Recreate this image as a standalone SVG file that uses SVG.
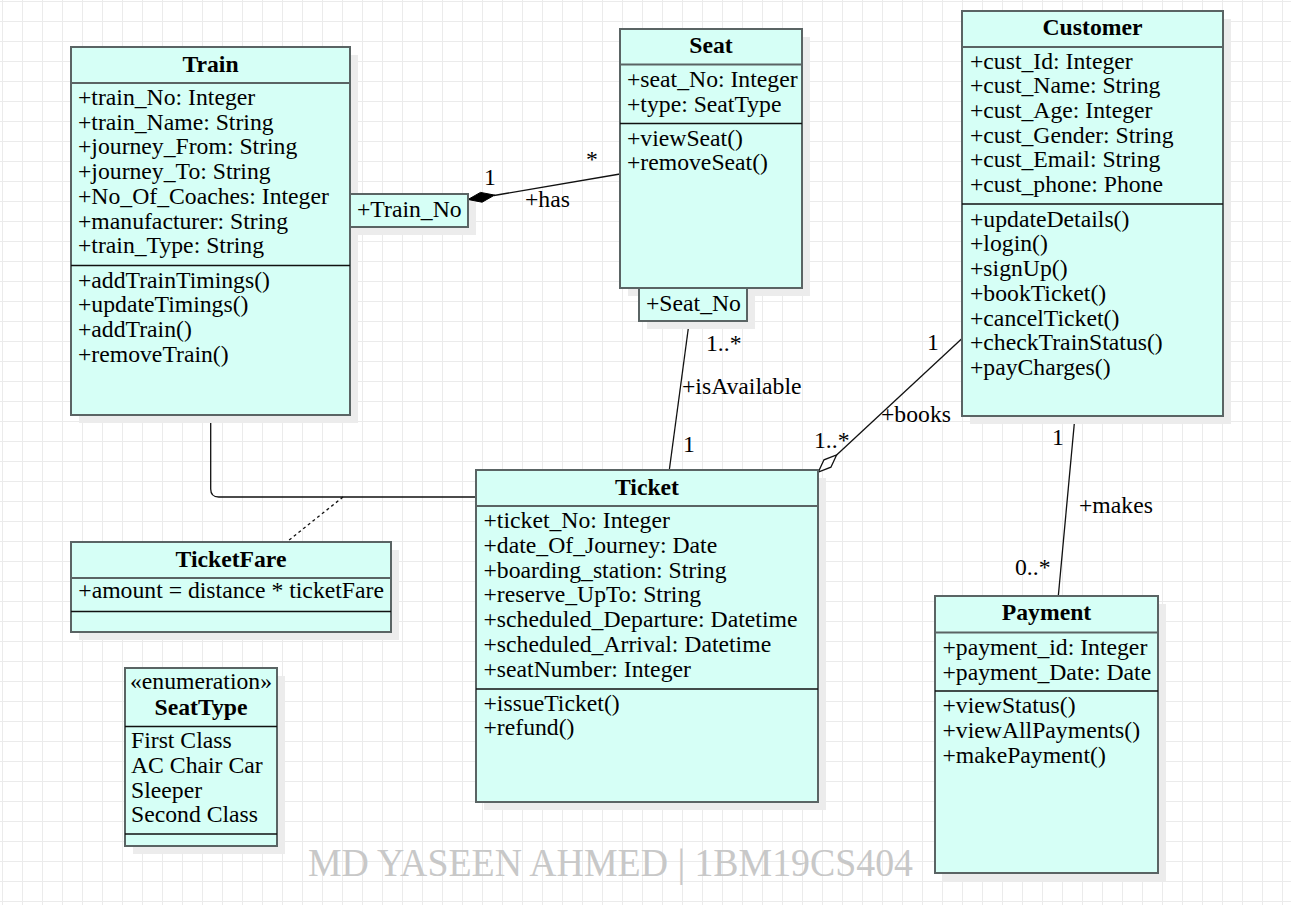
<svg xmlns="http://www.w3.org/2000/svg" width="1291" height="905" viewBox="0 0 1291 905">
<defs>
<pattern id="grid" x="2" y="1" width="20" height="20" patternUnits="userSpaceOnUse">
<path d="M0.5 0 V20 M0 0.5 H20" stroke="#ebebeb" stroke-width="1" fill="none"/>
</pattern>
<style>
.box{fill:#d6fff6;stroke:#5a6464;stroke-width:2}
.sh{fill:#ececec}
.hd{stroke:#5a6464;stroke-width:2}
.dv{stroke:#111;stroke-width:1.3}
.t{font-family:"Liberation Serif","Times New Roman",serif;font-size:23.7px;fill:#000}
.b{font-weight:bold;text-anchor:middle}
.c{text-anchor:middle}
.ln{stroke:#111;stroke-width:1.3;fill:none}
</style>
</defs>
<rect width="1291" height="905" fill="#fff"/>
<rect width="1291" height="905" fill="url(#grid)"/>

<text x="308" y="876" font-family="'Liberation Serif','Times New Roman',serif" font-size="40" fill="#c8c8c8" textLength="605" lengthAdjust="spacingAndGlyphs">MD YASEEN AHMED | 1BM19CS404</text>

<g id="connectors">
<path class="ln" d="M210.7 415 V489 Q210.7 497 218.7 497 H476"/>
<path class="ln" d="M343 497 L288 541" stroke-dasharray="3 3"/>
<line class="ln" x1="494" y1="195.5" x2="620" y2="174"/>
<polygon points="468,199.5 480.5,192.4 494.6,195.1 482.1,202.2" fill="#000" stroke="#000" stroke-width="1"/>
<line class="ln" x1="689.3" y1="321" x2="669.3" y2="470"/>
<line class="ln" x1="962" y1="338.5" x2="836.6" y2="455"/>
<polygon points="818.3,472 824,459.8 836.6,455 830.9,467.2" fill="#fff" stroke="#111" stroke-width="1.3"/>
<line class="ln" x1="1075" y1="416" x2="1058.3" y2="596"/>
<text class="t" x="484" y="185">1</text>
<text class="t" x="586" y="167">*</text>
<text class="t" x="525" y="207">+has</text>
<text class="t" x="706" y="351">1..*</text>
<text class="t" x="682" y="394">+isAvailable</text>
<text class="t" x="683" y="452">1</text>
<text class="t" x="927" y="350">1</text>
<text class="t" x="881" y="422">+books</text>
<text class="t" x="814" y="448">1..*</text>
<text class="t" x="1052" y="445">1</text>
<text class="t" x="1079" y="513">+makes</text>
<text class="t" x="1015" y="575">0..*</text>
</g>

<g id="Train">
<rect class="sh" x="79" y="55" width="279" height="368"/>
<rect class="box" x="71" y="47" width="279" height="368"/>
<line class="hd" x1="71" y1="83" x2="350" y2="83"/>
<line class="dv" x1="71" y1="265.5" x2="350" y2="265.5"/>
<text class="t b" x="210.5" y="72">Train</text>
<text class="t" x="78">
<tspan x="78" y="105">+train_No: Integer</tspan>
<tspan x="78" y="129.7">+train_Name: String</tspan>
<tspan x="78" y="154.4">+journey_From: String</tspan>
<tspan x="78" y="179.1">+journey_To: String</tspan>
<tspan x="78" y="203.8">+No_Of_Coaches: Integer</tspan>
<tspan x="78" y="228.5">+manufacturer: String</tspan>
<tspan x="78" y="253.2">+train_Type: String</tspan>
<tspan x="78" y="287.5">+addTrainTimings()</tspan>
<tspan x="78" y="312.2">+updateTimings()</tspan>
<tspan x="78" y="336.9">+addTrain()</tspan>
<tspan x="78" y="361.6">+removeTrain()</tspan>
</text>
</g>

<g id="Train_No">
<rect class="sh" x="358" y="202" width="118" height="33"/>
<rect class="box" x="350" y="194" width="118" height="33"/>
<text class="t" x="357" y="217">+Train_No</text>
</g>

<g id="Seat">
<rect class="sh" x="628" y="37" width="182" height="259"/>
<rect class="box" x="620" y="29" width="182" height="259"/>
<line class="hd" x1="620" y1="64.5" x2="802" y2="64.5"/>
<line class="dv" x1="620" y1="123.5" x2="802" y2="123.5"/>
<text class="t b" x="711" y="53">Seat</text>
<text class="t">
<tspan x="627" y="87">+seat_No: Integer</tspan>
<tspan x="627" y="111.5">+type: SeatType</tspan>
<tspan x="627" y="145.5">+viewSeat()</tspan>
<tspan x="627" y="170">+removeSeat()</tspan>
</text>
</g>

<g id="Seat_No">
<rect class="sh" x="647" y="296" width="108" height="33"/>
<rect class="box" x="639" y="288" width="108" height="33"/>
<text class="t" x="646" y="311">+Seat_No</text>
</g>

<g id="Customer">
<rect class="sh" x="970" y="19" width="261" height="405"/>
<rect class="box" x="962" y="11" width="261" height="405"/>
<line class="hd" x1="962" y1="47" x2="1223" y2="47"/>
<line class="dv" x1="962" y1="204" x2="1223" y2="204"/>
<text class="t b" x="1092.5" y="35">Customer</text>
<text class="t">
<tspan x="970" y="68.5">+cust_Id: Integer</tspan>
<tspan x="970" y="93.2">+cust_Name: String</tspan>
<tspan x="970" y="117.9">+cust_Age: Integer</tspan>
<tspan x="970" y="142.6">+cust_Gender: String</tspan>
<tspan x="970" y="167.3">+cust_Email: String</tspan>
<tspan x="970" y="192">+cust_phone: Phone</tspan>
<tspan x="970" y="226.7">+updateDetails()</tspan>
<tspan x="970" y="251.4">+login()</tspan>
<tspan x="970" y="276.1">+signUp()</tspan>
<tspan x="970" y="300.8">+bookTicket()</tspan>
<tspan x="970" y="325.5">+cancelTicket()</tspan>
<tspan x="970" y="350.2">+checkTrainStatus()</tspan>
<tspan x="970" y="374.9">+payCharges()</tspan>
</text>
</g>

<g id="Ticket">
<rect class="sh" x="484" y="478" width="342" height="332"/>
<rect class="box" x="476" y="470" width="342" height="332"/>
<line class="hd" x1="476" y1="506" x2="818" y2="506"/>
<line class="dv" x1="476" y1="689" x2="818" y2="689"/>
<text class="t b" x="647" y="495">Ticket</text>
<text class="t">
<tspan x="483.5" y="528.3">+ticket_No: Integer</tspan>
<tspan x="483.5" y="553">+date_Of_Journey: Date</tspan>
<tspan x="483.5" y="577.7">+boarding_station: String</tspan>
<tspan x="483.5" y="602.4">+reserve_UpTo: String</tspan>
<tspan x="483.5" y="627.1">+scheduled_Departure: Datetime</tspan>
<tspan x="483.5" y="651.8">+scheduled_Arrival: Datetime</tspan>
<tspan x="483.5" y="676.5">+seatNumber: Integer</tspan>
<tspan x="483.5" y="710.7">+issueTicket()</tspan>
<tspan x="483.5" y="735.4">+refund()</tspan>
</text>
</g>

<g id="Payment">
<rect class="sh" x="943" y="604" width="223" height="277"/>
<rect class="box" x="935" y="596" width="223" height="277"/>
<line class="hd" x1="935" y1="632.5" x2="1158" y2="632.5"/>
<line class="dv" x1="935" y1="691" x2="1158" y2="691"/>
<text class="t b" x="1046.5" y="620">Payment</text>
<text class="t">
<tspan x="942.5" y="655">+payment_id: Integer</tspan>
<tspan x="942.5" y="679.7">+payment_Date: Date</tspan>
<tspan x="942.5" y="713.3">+viewStatus()</tspan>
<tspan x="942.5" y="738">+viewAllPayments()</tspan>
<tspan x="942.5" y="762.7">+makePayment()</tspan>
</text>
</g>

<g id="TicketFare">
<rect class="sh" x="79" y="550" width="320" height="90"/>
<rect class="box" x="71" y="542" width="320" height="90"/>
<line class="hd" x1="71" y1="578" x2="391" y2="578"/>
<line class="dv" x1="71" y1="611.5" x2="391" y2="611.5"/>
<text class="t b" x="231" y="567">TicketFare</text>
<text class="t" x="78.3" y="598.3">+amount = distance * ticketFare</text>
</g>

<g id="SeatType">
<rect class="sh" x="133" y="676" width="152" height="178"/>
<rect class="box" x="125" y="668" width="152" height="178"/>
<line class="dv" x1="125" y1="726.5" x2="277" y2="726.5"/>
<line class="dv" x1="125" y1="834" x2="277" y2="834"/>
<text class="t c" x="201" y="689">«enumeration»</text>
<text class="t b" x="201" y="714.5">SeatType</text>
<text class="t">
<tspan x="131" y="748.3">First Class</tspan>
<tspan x="131" y="773">AC Chair Car</tspan>
<tspan x="131" y="797.7">Sleeper</tspan>
<tspan x="131" y="822.4">Second Class</tspan>
</text>
</g>
</svg>
